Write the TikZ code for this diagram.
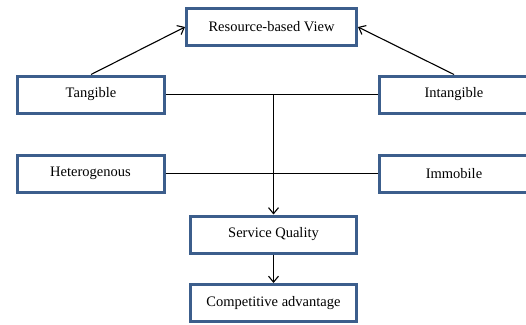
\documentclass[tikz,border=0pt]{standalone}
\usepackage{fontspec}
\setmainfont{Liberation Serif}
\usepackage{xcolor}
\usetikzlibrary{positioning,shapes,arrows.meta}
\definecolor{boxblue}{RGB}{60,94,140}
\begin{document}
\begin{tikzpicture}[x=1pt, y=-1pt, >={Straight Barb[length=6pt,width=10pt]},
          every node/.style = {font=\fontsize{14.5}{16}\selectfont},
          factor/.style = {shape=rectangle, draw=boxblue, line width=3pt,
            fill=white, align=center, inner sep=0pt,
            minimum width=147pt, minimum height=37pt},
          stage/.style = {factor, minimum width=166pt},
          link/.style = {draw, line width=1.1pt}]
          \useasboundingbox (0,0) rectangle (526,324);
          % top
          \node[stage, minimum width=170pt] (rbv) at (271.5,27) {Resource-based View};
          % resources
          \node[factor] (tangible) at (91,94.5) {Tangible};
          \node[factor, minimum width=150pt] (intangible) at (454,94.5) {Intangible};
          \node[factor] (hetero) at (90.5,173.5) {Heterogenous};
          \node[factor, minimum width=150pt] (immobile) at (454,173.5) {Immobile};
          % outcomes
          \node[stage] (service) at (273.5,234.5) {Service Quality};
          \node[stage] (advantage) at (273.5,303) {Competitive advantage};
          % connectors
          \draw[link] (tangible.east) -- (intangible.west);
          \draw[link] (hetero.east) -- (immobile.west);
          \coordinate (join) at (service.north |- tangible.east);
          \draw[link,->] (join) -- (service.north);
          \draw[link,->] (tangible.north) -- (rbv.west);
          \draw[link,->] (intangible.north) -- (rbv.east);
          \draw[link,->] (service) -- (advantage);
        \end{tikzpicture}
\end{document}
